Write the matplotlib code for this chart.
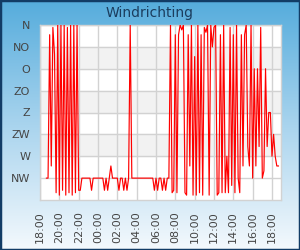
import numpy as np
import pandas as pd
import matplotlib
matplotlib.use("Agg")
import matplotlib.pyplot as plt
import matplotlib.dates as mdates
from matplotlib.patches import Rectangle

# wind direction in degrees, one reading every 10 minutes from 18:40
start = "2024-05-01 18:40"
direction = [
    315, 315, 20, 290, 5, 60, 345, 0, 350, 0,
    340, 0, 350, 5, 345, 0, 350, 0, 345, 0,
    340, 340, 315, 315, 315, 315, 315, 315, 340, 315,
    315, 315, 315, 315, 315, 315, 340, 315, 340, 315,
    290, 315, 315, 315, 315, 340, 315, 315, 340, 315,
    340, 315, 0, 315, 315, 315, 315, 315, 315, 315,
    315, 315, 315, 315, 315, 315, 315, 340, 315, 340,
    315, 315, 340, 315, 340, 315, 315, 0, 345, 340,
    20, 345, 20, 0, 10, 0, 345, 350, 20, 290,
    0, 350, 65, 350, 0, 345, 20, 350, 5, 15,
    0, 350, 0, 45, 5, 0, 350, 345, 20, 345,
    0, 345, 270, 345, 5, 330, 20, 345, 0, 315,
    345, 20, 290, 20, 0, 250, 290, 0, 315, 90,
    290, 90, 250, 5, 315, 300, 90, 250, 180, 180,
    270, 225, 270, 290, 290,
]
compass = ["N", "NO", "O", "ZO", "Z", "ZW", "W", "NW"]
compass_deg = [0, 45, 90, 135, 180, 225, 270, 315]

times = pd.date_range(start, periods=len(direction), freq="10min")

fig = plt.figure(figsize=(3, 2.5), dpi=100)

# blue to white background
bg = fig.add_axes([0, 0, 1, 1], zorder=-10)
grad = np.linspace(0, 1, 256).reshape(-1, 1)
cmap = matplotlib.colors.LinearSegmentedColormap.from_list(
    "bg", ["#55acdc", "#a9d4ee", "#f4f9fd"])
bg.imshow(grad, aspect="auto", cmap=cmap, extent=[0, 1, 0, 1])
bg.axis("off")

ax = fig.add_axes([40 / 300, 1 - 200 / 250, 241 / 300, 175 / 250])
ax.set_facecolor("white")
for lo, hi in [(45, 90), (135, 180), (225, 270)]:
    ax.axhspan(lo, hi, color="#f2f2f2", zorder=0)

ax.plot(times, direction, color="#ff0000", lw=0.85, zorder=3)

ax.set_ylim(360, 0)
ax.set_yticks(compass_deg)
ax.set_yticklabels(compass)

t0 = pd.Timestamp("2024-05-01 18:00")
ax.set_xlim(t0, t0 + pd.Timedelta(minutes=24 * 60 + 56))
ax.xaxis.set_major_locator(mdates.HourLocator(byhour=range(0, 24, 2)))
ax.xaxis.set_major_formatter(mdates.DateFormatter("%H:%M"))
plt.setp(ax.get_xticklabels(), rotation=90)

ax.grid(True, color="#d2d2d2", lw=1.0, zorder=1)
ax.set_axisbelow(True)
ax.tick_params(axis="both", length=0, labelsize=8, labelcolor="#454545")
ax.tick_params(axis="y", pad=7)
ax.tick_params(axis="x", pad=8)
for s in ax.spines.values():
    s.set_color("#d2d2d2")
    s.set_linewidth(1.0)

fig.text(0.5, 0.95, "Windrichting", ha="center", va="center",
         fontsize=10, color="#1b3d5e")

fig.patches.append(Rectangle((0, 0), 1, 1, transform=fig.transFigure,
                             fill=False, edgecolor="#123c66", lw=2.5))

plt.savefig("out.png", dpi=100)
plt.close()
